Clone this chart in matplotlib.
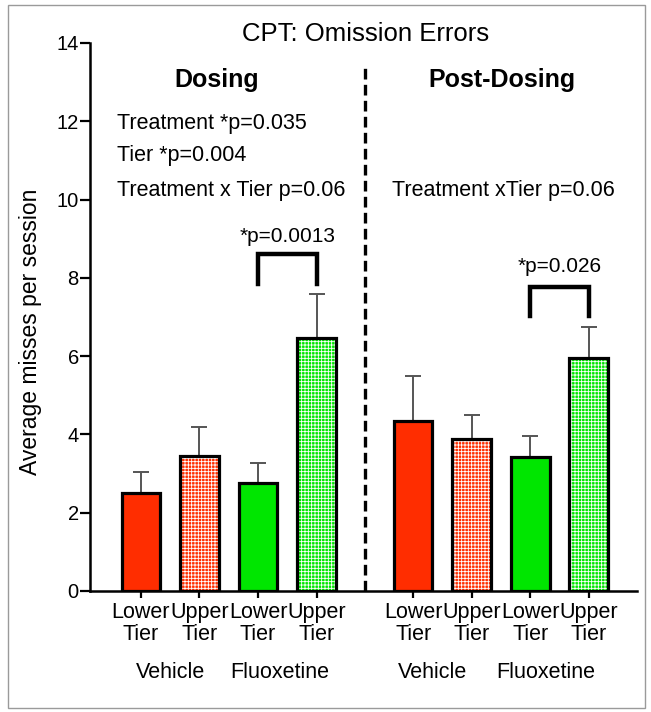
import matplotlib
matplotlib.use("Agg")
import matplotlib.pyplot as plt
from matplotlib.patches import Rectangle

plt.rcParams['font.family'] = ['Liberation Sans', 'DejaVu Sans']
plt.rcParams['hatch.linewidth'] = 0.6

# ---------------- data ----------------
tier_labels = ["Lower\nTier", "Upper\nTier", "Lower\nTier", "Upper\nTier",
               "Lower\nTier", "Upper\nTier", "Lower\nTier", "Upper\nTier"]
group_labels = ["Vehicle", "Fluoxetine", "Vehicle", "Fluoxetine"]
mean_misses = [2.51, 3.44, 2.77, 6.47, 4.33, 3.87, 3.41, 5.95]
sem_misses = [0.54, 0.74, 0.51, 1.12, 1.16, 0.62, 0.54, 0.79]
bar_colors = ["#FF2D00", "#FF2D00", "#00E600", "#00E600",
              "#FF2D00", "#FF2D00", "#00E600", "#00E600"]
bar_hatched = [False, True, False, True, False, True, False, True]

dosing_stats = ["Treatment *p=0.035", "Tier *p=0.004", "Treatment x Tier p=0.06"]
post_stats = "Treatment xTier p=0.06"
dosing_bracket = "*p=0.0013"
post_bracket = "*p=0.026"

# ---------------- layout ----------------
x_pos = [0, 1, 2, 3, 4.65, 5.65, 6.65, 7.65]
group_x = [0.5, 2.37, 4.98, 6.92]
divider_x = 3.82

fig = plt.figure(figsize=(6.51, 7.12), dpi=100)
ax = fig.add_axes([0.1382, 0.17, 0.840, 0.7697])

# frame around the whole picture
fig.patches.append(Rectangle((0.0123, 0.0056), 0.9785, 0.987, transform=fig.transFigure,
                             fill=False, edgecolor="#9a9a9a", linewidth=1.0))

# error bars (upper only)
ax.errorbar(x_pos, mean_misses, yerr=[[0] * len(sem_misses), sem_misses], fmt='none',
            ecolor="#555555", elinewidth=1.4, capsize=5.5, capthick=1.4, zorder=1)

# bars: fill layer (with hatch for upper tier) then black outline
for x, m, c, h in zip(x_pos, mean_misses, bar_colors, bar_hatched):
    if h:
        ax.bar(x, m, width=0.66, color=c, edgecolor="white", linewidth=0,
               hatch="+++++", zorder=2)
    else:
        ax.bar(x, m, width=0.66, color=c, linewidth=0, zorder=2)
    ax.bar(x, m, width=0.66, fill=False, edgecolor="black", linewidth=2.3, zorder=3)

# dashed divider
ax.plot([divider_x, divider_x], [0, 13.5], color="black", linewidth=2.4,
        linestyle=(0, (3.2, 1.6)), zorder=1)

# significance brackets
ax.plot([x_pos[2], x_pos[2], x_pos[3], x_pos[3]], [7.85, 8.6, 8.6, 7.85],
        color="black", linewidth=3.2, solid_joinstyle="miter")
ax.text((x_pos[2] + x_pos[3]) / 2, 9.05, dosing_bracket, ha="center", va="center", fontsize=15)
ax.plot([x_pos[6], x_pos[6], x_pos[7], x_pos[7]], [7.03, 7.77, 7.77, 7.03],
        color="black", linewidth=3.2, solid_joinstyle="miter")
ax.text((x_pos[6] + x_pos[7]) / 2, 8.28, post_bracket, ha="center", va="center", fontsize=15)

# panel headings and stats
ax.text(3.84, 14.22, "CPT: Omission Errors", ha="center", va="center", fontsize=18.5)
ax.text(1.29, 13.05, "Dosing", ha="center", va="center", fontsize=18, fontweight="bold")
ax.text(6.17, 13.05, "Post-Dosing", ha="center", va="center", fontsize=18, fontweight="bold")
for y, s in zip([11.95, 11.13, 10.23], dosing_stats):
    ax.text(-0.41, y, s, ha="left", va="center", fontsize=15.5)
ax.text(6.19, 10.23, post_stats, ha="center", va="center", fontsize=15.5)

# group labels under the tick labels
for gx, g in zip(group_x, group_labels):
    ax.text(gx, -2.08, g, ha="center", va="center", fontsize=15.5, clip_on=False)

# axes styling
ax.set_xlim(-0.87, 8.47)
ax.set_ylim(0, 14)
ax.set_yticks(range(0, 15, 2))
ax.set_xticks(x_pos)
ax.set_xticklabels(tier_labels, fontsize=15.5, linespacing=1.05)
ax.tick_params(axis="y", labelsize=14.5, width=1.6, length=7, pad=1)
ax.tick_params(axis="x", width=1.6, length=5, pad=3)
for side in ["top", "right"]:
    ax.spines[side].set_visible(False)
for side in ["left", "bottom"]:
    ax.spines[side].set_linewidth(1.8)
ax.set_ylabel("Average misses per session", fontsize=16.5)
ax.yaxis.set_label_coords(-0.088, 0.473)

fig.savefig("out.png", dpi=100)
